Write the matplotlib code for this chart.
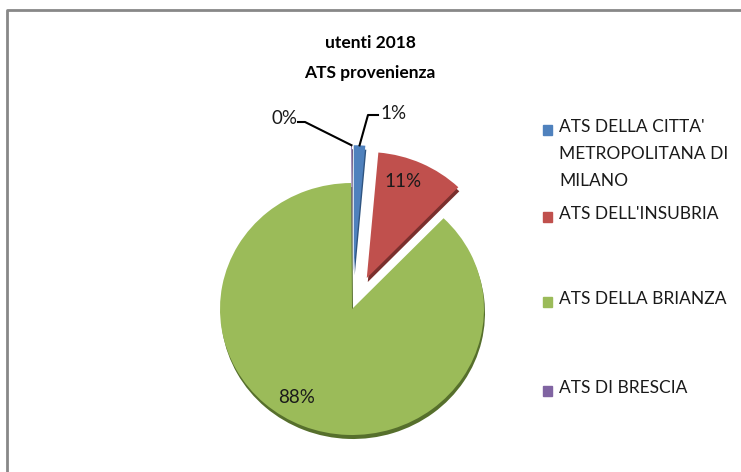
import numpy as np
import matplotlib
matplotlib.use('Agg')
import matplotlib.pyplot as plt
from matplotlib.patches import Rectangle
from matplotlib.lines import Line2D

# data
labels = ["ATS DELLA CITTA'\nMETROPOLITANA DI\nMILANO", "ATS DELL'INSUBRIA",
          "ATS DELLA BRIANZA", "ATS DI BRESCIA"]
shares = [1.4, 10.8, 87.7, 0.1]
pct_text = ['1%', '11%', '88%', '0%']
colors = ['#4F81BD', '#C0504D', '#9BBB59', '#8064A2']
shadow_colors = ['#2f5480', '#7a2f2d', '#566f2c', '#4e3a66']
explode = [0.3, 0.27, 0.0, 0.3]

W, H = 741, 472
plt.rcParams['font.family'] = ['Lato', 'DejaVu Sans']

fig = plt.figure(figsize=(W / 100, H / 100), dpi=100)
ax = fig.add_axes([0, 0, 1, 1])

# slight vertical squash for the tilted look
sy = 126 / 132
def py(p):
    return (H - p) / sy

cx, cy, r = 352, py(309), 132
expl = [e * r for e in explode]

# shadow under the pie
ax.pie(shares, explode=expl, colors=shadow_colors, startangle=90, counterclock=False,
       radius=r, center=(cx + 1, cy - 4 / sy), wedgeprops=dict(linewidth=0))
wedges, _ = ax.pie(shares, explode=expl, colors=colors, startangle=90, counterclock=False,
                   radius=r, center=(cx, cy), wedgeprops=dict(linewidth=0))
ax.set_aspect('auto')
ax.set_xlim(0, W)
ax.set_ylim(0, H / sy)
ax.axis('off')

# percentage labels inside the big slices (distance, angle shift)
for w, t, d, da in zip(wedges, pct_text, [0, 0.81, 0.82, 0], [0, 4.8, -8.8, 0]):
    if d == 0:
        continue
    ang = np.deg2rad((w.theta1 + w.theta2) / 2 + da)
    x = w.center[0] + d * r * np.cos(ang)
    y = w.center[1] + d * r * np.sin(ang)
    ax.text(x, y, t, ha='center', va='center', fontsize=13.5, color='#1a1a1a')

# leader lines for the small slices
def edge_pt(w):
    ang = np.deg2rad((w.theta1 + w.theta2) / 2)
    return w.center[0] + r * np.cos(ang), w.center[1] + r * np.sin(ang)

bx, by = edge_pt(wedges[0])
ax.plot([bx, 368, 378], [by, py(115), py(115)], color='black', lw=1.5)
ax.text(380, py(113), pct_text[0], ha='left', va='center', fontsize=13.5, color='#1a1a1a')

px_, py_ = edge_pt(wedges[3])
ax.plot([px_, 305, 298], [py_, py(122), py(122)], color='black', lw=1.5)
ax.text(297, py(118), pct_text[3], ha='right', va='center', fontsize=13.5, color='#1a1a1a')

# title
fig.text(370 / W, 1 - 43 / H, 'utenti 2018', ha='center', va='center', fontsize=12.5, fontweight='bold')
fig.text(370 / W, 1 - 73 / H, 'ATS provenienza', ha='center', va='center', fontsize=12.5, fontweight='bold')

# legend
leg_y = [130, 217, 302, 391]
for lab, c, yy in zip(labels, colors, leg_y):
    fig.patches.append(Rectangle((543 / W, 1 - (yy + 5) / H), 9 / W, 10 / H,
                                 transform=fig.transFigure, color=c))
    fig.text(559 / W, 1 - (yy - 11) / H, lab, ha='left', va='top', fontsize=12.5,
             linespacing=1.85, color='#1a1a1a')

# chart border
fig.lines.append(Line2D([7 / W, 7 / W, 1], [0, 1 - 10 / H, 1 - 10 / H],
                        transform=fig.transFigure, color='#888888', lw=2))

fig.savefig('out.png', dpi=100)
